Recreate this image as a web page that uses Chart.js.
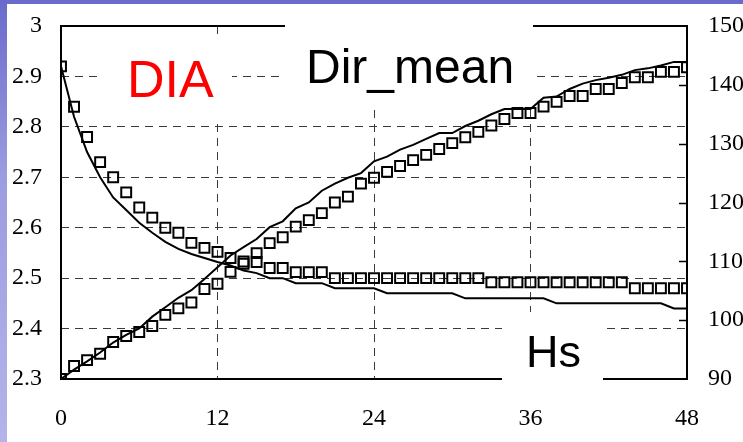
<!DOCTYPE html>
<html>
<head>
<meta charset="utf-8">
<script src="https://cdn.jsdelivr.net/npm/chart.js@4/dist/chart.umd.min.js"></script>
<style>
  html, body { margin: 0; padding: 0; }
  body {
    width: 743px; height: 442px; overflow: hidden;
    background: linear-gradient(to bottom, #6a6acc 0%, #9c9ce0 40%, #b4b4ea 100%);
  }
  #chart { display: block; }
</style>
</head>
<body>
<canvas id="chart" width="743" height="442"></canvas>
<script>
// ================= Data =================
const hours = [0, 1, 2, 3, 4, 5, 6, 7, 8, 9, 10, 11, 12, 13, 14, 15, 16, 17, 18, 19, 20, 21, 22, 23, 24,
  25, 26, 27, 28, 29, 30, 31, 32, 33, 34, 35, 36, 37, 38, 39, 40, 41, 42, 43, 44, 45, 46, 47, 48];

// Hs (left axis)
const hsLine = [2.92, 2.82, 2.75, 2.70, 2.66, 2.635, 2.61, 2.59, 2.572, 2.558, 2.548, 2.54, 2.532, 2.525, 2.515,
  2.51, 2.50, 2.50, 2.49, 2.49, 2.49, 2.48, 2.48, 2.48, 2.48, 2.47, 2.47, 2.47, 2.47, 2.47, 2.47,
  2.46, 2.46, 2.46, 2.46, 2.46, 2.46, 2.46, 2.45, 2.45, 2.45, 2.45, 2.45, 2.45, 2.45, 2.45, 2.45, 2.44, 2.44];
const hsMarks = [2.92, 2.84, 2.78, 2.73, 2.70, 2.67, 2.64, 2.62, 2.60, 2.59, 2.57, 2.56, 2.552, 2.54, 2.533,
  2.532, 2.52, 2.52, 2.512, 2.512, 2.512, 2.50, 2.50, 2.50, 2.50, 2.50, 2.50, 2.50, 2.50, 2.50, 2.50,
  2.50, 2.50, 2.492, 2.492, 2.492, 2.492, 2.492, 2.492, 2.492, 2.492, 2.492, 2.492, 2.492, 2.48, 2.48, 2.48, 2.48, 2.48];

// Dir_mean (right axis)
const dirLine = [90, 91.6, 93, 94.5, 96.2, 97.5, 98.6, 100.6, 102.2, 103.8, 105.1, 107, 109, 111, 112.4,
  113.8, 115.8, 116.8, 119, 120, 122, 123.2, 124.2, 125, 127, 127.8, 129, 129.8, 130.8, 131.8, 131.8,
  133, 133.9, 135, 135.9, 135.9, 135.9, 137.8, 138, 139.3, 140.2, 140.8, 141.2, 141.7, 142.5, 142.8, 143.3, 143.9, 143.9];
const dirMarks = [90, 92.2, 93.2, 94.3, 96.3, 97.3, 98, 99, 100.9, 102, 103, 105.3, 106.2, 108.2, 109.6,
  111.4, 113.1, 114.1, 115.9, 117, 118.2, 120, 121, 123.2, 124.2, 125.2, 126.2, 127.2, 128.1, 129.1, 130.1,
  131.1, 132, 133.1, 134.2, 135.2, 135.2, 136.3, 137.1, 138.1, 138.1, 139.3, 139.3, 140.3, 141.3, 141.3, 142.2, 142.2, 143];

const hsTicks = [2.3, 2.4, 2.5, 2.6, 2.7, 2.8, 2.9, 3];
const dirTicks = [90, 100, 110, 120, 130, 140, 150];
const hourTicks = [0, 12, 24, 36, 48];

// ================= Chart =================
const tickFont = { family: '"Liberation Serif", "Times New Roman", serif', size: 24 };
const gridColor = '#3a3a3a';

const overlay = {
  id: 'overlay',
  beforeDraw(chart) {
    const ctx = chart.ctx;
    ctx.save();
    ctx.fillStyle = '#fff';
    ctx.fillRect(7, 4, chart.width - 7, chart.height - 4);
    ctx.restore();
  },
  beforeDatasetsDraw(chart) {
    const { ctx, chartArea: a, scales } = chart;
    ctx.save();
    // frame
    ctx.strokeStyle = '#000';
    ctx.lineWidth = 2;
    ctx.setLineDash([]);
    ctx.strokeRect(a.left, a.top, a.right - a.left, a.bottom - a.top);
    // inward ticks on right axis
    ctx.beginPath();
    scales.y2.ticks.forEach(t => {
      if (t.value <= 90 || t.value >= 150) return;
      const y = Math.round(scales.y2.getPixelForValue(t.value)) + 0.5;
      ctx.moveTo(a.right - 8, y);
      ctx.lineTo(a.right, y);
    });
    ctx.lineWidth = 1.5;
    ctx.stroke();

    // text boxes
    ctx.fillStyle = '#fff';
    ctx.fillRect(100, 35, 132, 83);
    ctx.fillRect(285, 10, 248, 98);
    ctx.fillRect(502, 312, 101, 86);

    ctx.textBaseline = 'alphabetic';
    ctx.textAlign = 'left';
    ctx.fillStyle = '#ff0000';
    ctx.font = '52px "Liberation Sans", Arial, sans-serif';
    ctx.fillText('DIA', 127, 97);
    ctx.fillStyle = '#000';
    ctx.font = '48px "Liberation Sans", Arial, sans-serif';
    ctx.fillText('Dir_mean', 306, 83);
    ctx.font = '45px "Liberation Sans", Arial, sans-serif';
    ctx.fillText('Hs', 526, 367);
    ctx.restore();
  }
};

const lineStyle = {
  borderColor: '#000',
  borderWidth: 2,
  pointRadius: 0,
  tension: 0,
  fill: false
};
const markStyle = {
  showLine: false,
  pointStyle: 'rect',
  pointRadius: 7,
  pointBorderWidth: 2,
  pointBorderColor: '#000',
  pointBackgroundColor: 'rgba(0,0,0,0)'
};

const noPad = s => { s.paddingTop = 0; s.paddingBottom = 0; s.paddingLeft = 0; s.paddingRight = 0; };

new Chart(document.getElementById('chart').getContext('2d'), {
  type: 'line',
  data: {
    labels: hours,
    datasets: [
      { label: 'Hs', data: hsLine, yAxisID: 'y', ...lineStyle },
      { label: 'Hs marks', data: hsMarks, yAxisID: 'y', ...markStyle },
      { label: 'Dir_mean', data: dirLine, yAxisID: 'y2', ...lineStyle },
      { label: 'Dir_mean marks', data: dirMarks, yAxisID: 'y2', ...markStyle }
    ]
  },
  options: {
    responsive: false,
    animation: false,
    layout: { padding: { top: 26, left: 0, right: 0, bottom: 0 } },
    plugins: { legend: { display: false }, tooltip: { enabled: false } },
    scales: {
      x: {
        type: 'linear',
        min: hourTicks[0],
        max: hourTicks[hourTicks.length - 1],
        afterBuildTicks: s => { s.ticks = hourTicks.map(v => ({ value: v })); },
        ticks: { padding: 25, color: '#000', font: tickFont, maxRotation: 0 },
        grid: {
          drawTicks: false,
          lineWidth: 1,
          color: c => (c.tick && (c.tick.value === 0 || c.tick.value === 48)) ? 'rgba(0,0,0,0)' : gridColor
        },
        border: { display: false, dash: [8, 6] },
        afterFit: s => { s.height = 63; noPad(s); }
      },
      y: {
        position: 'left',
        min: hsTicks[0],
        max: hsTicks[hsTicks.length - 1],
        afterBuildTicks: s => { s.ticks = hsTicks.map(v => ({ value: v })); },
        ticks: { padding: 19, color: '#000', font: tickFont, callback: v => String(+v.toFixed(1)) },
        grid: {
          drawTicks: false,
          lineWidth: 1,
          color: c => (c.tick && (c.tick.value < 2.35 || c.tick.value > 2.95)) ? 'rgba(0,0,0,0)' : gridColor
        },
        border: { display: false, dash: [8, 6] },
        afterFit: s => { s.width = 61; noPad(s); }
      },
      y2: {
        position: 'right',
        min: dirTicks[0],
        max: dirTicks[dirTicks.length - 1],
        afterBuildTicks: s => { s.ticks = dirTicks.map(v => ({ value: v })); },
        ticks: { padding: 21, color: '#000', font: tickFont },
        grid: { display: false, drawTicks: false },
        border: { display: false },
        afterFit: s => { s.width = 56; noPad(s); }
      }
    }
  },
  plugins: [overlay]
});
</script>
</body>
</html>
